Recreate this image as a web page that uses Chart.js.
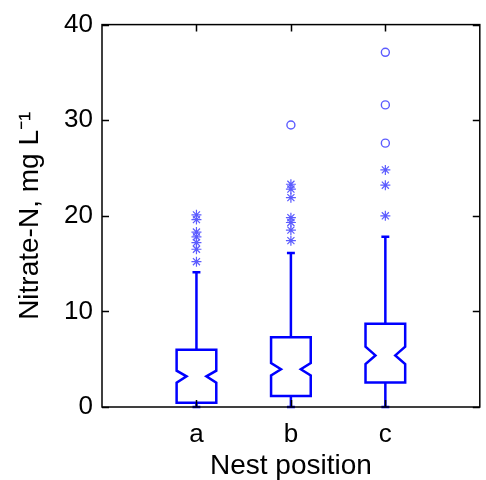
<!DOCTYPE html>
<html>
<head>
<meta charset="utf-8">
<script src="https://cdn.jsdelivr.net/npm/chart.js@4.4.0/dist/chart.umd.min.js"></script>
<style>
  html, body { margin: 0; padding: 0; background: #fff; }
</style>
</head>
<body>
<canvas id="boxChart" width="486" height="480"></canvas>
<script>
// nest positions and box statistics (mg L-1)
const categories   = ['a', 'b', 'c'];
const q1           = [0.45, 1.15, 2.55];
const median       = [3.2, 3.95, 5.4];
const q3           = [6.0, 7.3, 8.7];
const notchLow     = [2.55, 3.3, 4.5];
const notchHigh    = [3.8, 4.6, 6.3];
const whiskerLow   = [0, 0, 0];
const whiskerHigh  = [14.1, 16.1, 17.8];
const starOutliers = [
  [15.2, 16.5, 17.2, 17.8, 18.3, 19.6, 20.1],
  [17.4, 18.5, 19.3, 19.8, 21.9, 22.8, 23.3],
  [20.0, 23.2, 24.8],
];
const circleOutliers = [
  [],
  [29.5],
  [27.6, 31.6, 37.1],
];
const yTicks = [0, 10, 20, 30, 40];

const BOX_COLOR     = '#0000ff';
const OUTLIER_COLOR = '#5c5cff';
const FONT = 'Liberation Sans, Arial, Helvetica, sans-serif';
const BOX_HALF = 0.21;   // half box width, in category units
const NOTCH_RATIO = 0.5;

const toPoints = groups => groups.flatMap((vals, i) => vals.map(v => ({ x: i + 1, y: v })));

// notched boxes drawn from the stats through the chart scales
const notchedBoxes = {
  id: 'notchedBoxes',
  beforeDatasetsDraw(chart) {
    const { ctx, scales: { x, y } } = chart;
    const py = v => y.getPixelForValue(v);
    ctx.save();
    ctx.strokeStyle = BOX_COLOR;
    ctx.lineWidth = 2.5;
    ctx.lineJoin = 'miter';
    categories.forEach((cat, i) => {
      const cx = x.getPixelForValue(i + 1);
      const hw = x.getPixelForValue(i + 1 + BOX_HALF) - cx;
      const nw = hw * NOTCH_RATIO;
      const cw = hw * 0.2;

      ctx.beginPath();
      ctx.moveTo(cx, py(q3[i]));
      ctx.lineTo(cx, py(whiskerHigh[i]));
      ctx.moveTo(cx - cw, py(whiskerHigh[i]));
      ctx.lineTo(cx + cw, py(whiskerHigh[i]));
      ctx.moveTo(cx, py(q1[i]));
      ctx.lineTo(cx, py(whiskerLow[i]));
      ctx.moveTo(cx - cw, py(whiskerLow[i]));
      ctx.lineTo(cx + cw, py(whiskerLow[i]));
      ctx.stroke();

      ctx.beginPath();
      ctx.moveTo(cx - hw, py(q3[i]));
      ctx.lineTo(cx + hw, py(q3[i]));
      ctx.lineTo(cx + hw, py(notchHigh[i]));
      ctx.lineTo(cx + nw, py(median[i]));
      ctx.lineTo(cx + hw, py(notchLow[i]));
      ctx.lineTo(cx + hw, py(q1[i]));
      ctx.lineTo(cx - hw, py(q1[i]));
      ctx.lineTo(cx - hw, py(notchLow[i]));
      ctx.lineTo(cx - nw, py(median[i]));
      ctx.lineTo(cx - hw, py(notchHigh[i]));
      ctx.closePath();
      ctx.stroke();
    });
    ctx.restore();
  }
};

// closed frame with inward tick marks on all four sides
const frameTicks = {
  id: 'frameTicks',
  afterDraw(chart) {
    const { ctx, chartArea: a, scales: { x, y } } = chart;
    const len = 7;
    ctx.save();
    ctx.strokeStyle = '#000';
    ctx.lineWidth = 1.5;
    ctx.strokeRect(a.left, a.top, a.right - a.left, a.bottom - a.top);
    ctx.beginPath();
    y.ticks.forEach(t => {
      const p = Math.round(y.getPixelForValue(t.value)) + 0.5;
      ctx.moveTo(a.left, p);  ctx.lineTo(a.left + len, p);
      ctx.moveTo(a.right, p); ctx.lineTo(a.right - len, p);
    });
    x.ticks.forEach(t => {
      const p = Math.round(x.getPixelForValue(t.value)) + 0.5;
      ctx.moveTo(p, a.bottom); ctx.lineTo(p, a.bottom - len);
      ctx.moveTo(p, a.top);    ctx.lineTo(p, a.top + len);
    });
    ctx.stroke();
    ctx.restore();
  }
};

new Chart(document.getElementById('boxChart'), {
  type: 'scatter',
  data: {
    datasets: [
      {
        label: 'outliers *',
        data: toPoints(starOutliers),
        pointStyle: 'star',
        pointRadius: 5,
        borderColor: OUTLIER_COLOR,
        backgroundColor: OUTLIER_COLOR,
        borderWidth: 1.2,
      },
      {
        label: 'outliers o',
        data: toPoints(circleOutliers),
        pointStyle: 'circle',
        pointRadius: 4,
        borderColor: OUTLIER_COLOR,
        backgroundColor: 'rgba(0,0,0,0)',
        borderWidth: 1.4,
      },
    ]
  },
  options: {
    responsive: false,
    animation: false,
    devicePixelRatio: 1,
    layout: { padding: { top: 24, right: 2, left: 0, bottom: 0 } },
    plugins: {
      legend:  { display: false },
      tooltip: { enabled: false },
    },
    scales: {
      x: {
        type: 'linear',
        min: 0,
        max: 4,
        afterBuildTicks: s => { s.ticks = categories.map((c, i) => ({ value: i + 1 })); },
        afterFit: s => { s.height = 73; },
        grid:   { display: false, drawTicks: false },
        border: { display: false },
        ticks:  {
          color: '#000',
          padding: 12,
          font: { family: FONT, size: 26 },
          callback: v => categories[v - 1],
        },
        title: {
          display: true,
          text: 'Nest position',
          color: '#000',
          font: { family: FONT, size: 28 },
          padding: { top: 0, bottom: -3 },
        },
      },
      y: {
        min: 0,
        max: 40,
        afterBuildTicks: s => { s.ticks = yTicks.map(v => ({ value: v })); },
        afterFit: s => { s.width = 102; },
        grid:   { display: false, drawTicks: false },
        border: { display: false },
        ticks:  {
          color: '#000',
          padding: 9,
          font: { family: FONT, size: 26 },
        },
        title: {
          display: true,
          text: 'Nitrate-N, mg L⁻¹',
          color: '#000',
          font: { family: FONT, size: 28 },
          padding: { top: 13, bottom: 0 },
        },
      },
    },
  },
  plugins: [notchedBoxes, frameTicks],
});
</script>
</body>
</html>
